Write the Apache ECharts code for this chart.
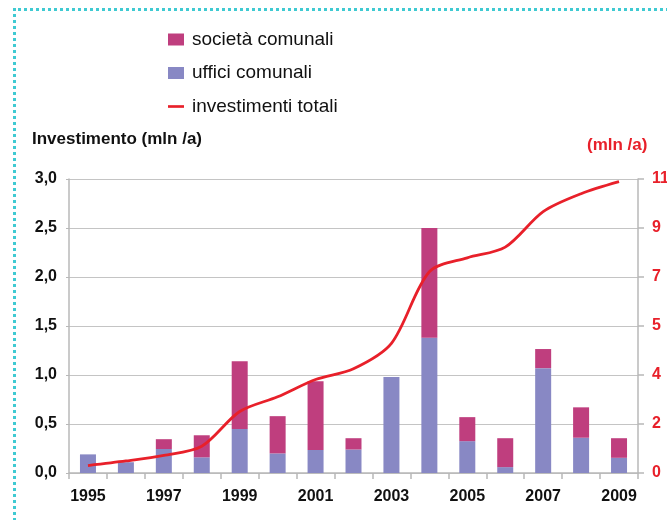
<!DOCTYPE html>
<html>
<head>
<meta charset="utf-8">
<script src="https://cdn.jsdelivr.net/npm/echarts@6/dist/echarts.min.js"></script>
<style>
html,body{margin:0;padding:0;background:#fff;}
#frame{position:absolute;left:13px;top:8px;width:700px;height:600px;border-left:3px dotted #3fcad2;border-top:3px dotted #3fcad2;}
#chart{position:absolute;left:0;top:0;width:667px;height:520px;}
</style>
</head>
<body>
<div id="frame"></div>
<div id="chart"></div>
<script>
const years = ['1995','1996','1997','1998','1999','2000','2001','2002','2003','2004','2005','2006','2007','2008','2009'];
const ufficiComunali = [0.19, 0.11, 0.245, 0.16, 0.45, 0.20, 0.235, 0.24, 0.98, 1.38, 0.325, 0.06, 1.07, 0.36, 0.155];
const societaComunali = [0, 0, 0.10, 0.225, 0.69, 0.38, 0.70, 0.115, 0, 1.12, 0.245, 0.295, 0.195, 0.31, 0.20];
const investimentiTotali = [0.28, 0.45, 0.66, 1.0, 2.3, 2.85, 3.5, 3.9, 4.85, 7.53, 8.05, 8.45, 9.78, 10.45, 10.9];
const leftTicks = ['0,0','0,5','1,0','1,5','2,0','2,5','3,0'];
const rightTicks = ['0','2','4','5','7','9','11'];

const chart = echarts.init(document.getElementById('chart'));
const font = 'Liberation Sans, Arial, Helvetica, sans-serif';
const axisGray = '#b8b8b8';
chart.setOption({
  animation: false,
  textStyle: {fontFamily: font},
  legend: {
    orient: 'vertical', left: 168, top: 30, itemGap: 14.5, padding: 0,
    itemWidth: 16, itemHeight: 12,
    textStyle: {fontSize: 19, color: '#111', fontFamily: font, padding: [0,0,0,3]},
    data: [
      {name: 'società comunali', icon: 'rect'},
      {name: 'uffici comunali', icon: 'rect'},
      {name: 'investimenti totali', icon: 'path://M0,0 L18,0 L18,3 L0,3 Z'}
    ]
  },
  grid: {left: 69, right: 29, top: 179, bottom: 47, outerBoundsMode: 'none', containLabel: false},
  graphic: [
    {type: 'text', left: 32, top: 131, style: {text: 'Investimento (mln /a)', fill: '#111', font: 'bold 17px ' + font}},
    {type: 'text', left: 587, top: 137, style: {text: '(mln /a)', fill: '#e8202a', font: 'bold 17px ' + font}}
  ],
  xAxis: {
    type: 'category', data: years, boundaryGap: true,
    axisLine: {lineStyle: {color: axisGray, width: 1.5}},
    axisTick: {show: true, interval: 0, length: 6, lineStyle: {color: axisGray, width: 1.5}},
    axisLabel: {interval: 1, color: '#111', fontWeight: 'bold', fontSize: 16, margin: 16, fontFamily: font}
  },
  yAxis: [
    {
      type: 'value', min: 0, max: 3, interval: 0.5,
      axisLine: {show: true, lineStyle: {color: axisGray, width: 1.5}},
      axisTick: {show: true, length: 3, lineStyle: {color: axisGray}},
      splitLine: {lineStyle: {color: '#c4c4c4', width: 1.2}},
      axisLabel: {color: '#111', fontWeight: 'bold', fontSize: 16, margin: 12, fontFamily: font,
        formatter: v => leftTicks[Math.round(v / 0.5)]}
    },
    {
      type: 'value', min: 0, max: 11, interval: 11 / 6,
      axisLine: {show: true, lineStyle: {color: axisGray, width: 1.5}},
      axisTick: {show: true, length: 6, lineStyle: {color: axisGray, width: 1.5}},
      splitLine: {show: false},
      axisLabel: {color: '#e8202a', fontWeight: 'bold', fontSize: 16, margin: 14, fontFamily: font,
        formatter: v => rightTicks[Math.round(v / (11 / 6))]}
    }
  ],
  series: [
    {name: 'uffici comunali', type: 'bar', stack: 'inv', barWidth: 16, data: ufficiComunali,
      itemStyle: {color: '#8888c4'}},
    {name: 'società comunali', type: 'bar', stack: 'inv', barWidth: 16, data: societaComunali,
      itemStyle: {color: '#bf3e7e'}},
    {name: 'investimenti totali', type: 'line', yAxisIndex: 1, data: investimentiTotali,
      smooth: 0.3, symbol: 'none', showSymbol: false,
      lineStyle: {color: '#e8202a', width: 2.8}, itemStyle: {color: '#e8202a'}}
  ]
});
</script>
</body>
</html>
